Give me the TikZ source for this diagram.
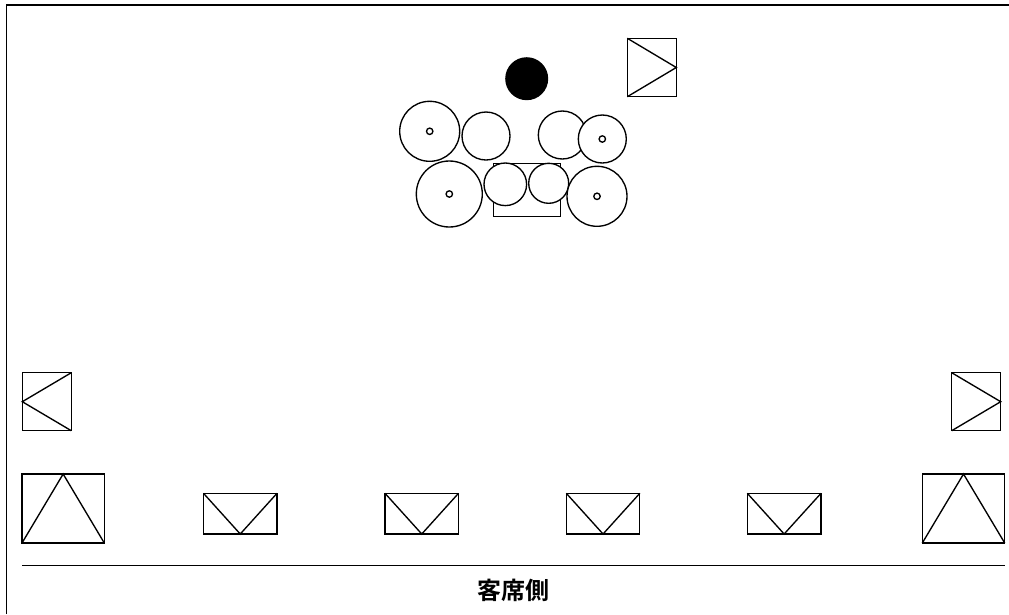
\documentclass[tikz,border=0pt]{standalone}
\usepackage{fontspec}
\newfontfamily\cjk{Noto Sans CJK JP}[BoldFont={Noto Sans CJK JP Bold}]
\tikzset{
  px/.style={x=1pt,y=-1pt},
  ln/.style={draw=black,line width=1.35pt,line join=miter},
  drum/.style={ln,fill=white},
  lug/.style={draw=black,line width=1.35pt,fill=white},
}
\newcommand{\drumc}[3]{\draw[drum] (#1,#2) circle[radius=#3];}
\newcommand{\drumd}[3]{\draw[drum] (#1,#2) circle[radius=#3]; \draw[lug] (#1,#2) circle[radius=3.2];}
\newcommand{\wdg}[4]{\draw[ln] (#1,#3) rectangle (#2,#4); \draw[ln] (#1,#3) -- ({(#1+#2)/2},#4) -- (#2,#3);}
\newcommand{\ampb}[4]{\draw[ln] (#1,#3) rectangle (#2,#4); \draw[ln] (#1,#4) -- ({(#1+#2)/2},#3) -- (#2,#4);}
\newcommand{\rside}[4]{\draw[ln] (#1,#3) rectangle (#2,#4); \draw[ln] (#1,#3) -- (#2,{(#3+#4)/2}) -- (#1,#4);}
\newcommand{\lside}[4]{\draw[ln] (#1,#3) rectangle (#2,#4); \draw[ln] (#2,#3) -- (#1,{(#3+#4)/2}) -- (#2,#4);}
\begin{document}
\begin{tikzpicture}[px]
\useasboundingbox (0,0) rectangle (1009,614);
\fill[white] (0,0) rectangle (1009,614);
% stage outline
\draw[ln] (6.5,614) -- (6.5,5) -- (1009,5);
% drum kit
\fill[black] (526.7,78.7) circle[radius=21.5];
\draw[ln] (493.7,163.7) rectangle (560.3,216.3);
\drumd{429.7}{131.3}{30}
\drumc{486}{136}{24}
\drumc{562.3}{135}{24}
\drumd{602.3}{139}{24}
\drumd{449.3}{194}{33}
\drumc{505.3}{184.3}{21.3}
\drumc{548.7}{183.3}{20}
\drumd{597}{196.3}{30}
% monitors
\rside{627.3}{676.3}{38.3}{96.7}
\lside{22.3}{71.3}{372.7}{430.7}
\rside{951.7}{1000.7}{372.7}{430.7}
\ampb{22}{104.3}{474}{543}
\ampb{922.3}{1004.7}{474}{543}
\wdg{203.5}{277}{493.3}{534}
\wdg{385}{458.5}{493.3}{534}
\wdg{566.3}{639.8}{493.3}{534}
\wdg{747.3}{821}{493.3}{534}
% audience line
\coordinate (audl) at (22,565.3);
\coordinate (audr) at (1004.7,565.3);
\draw[ln] (audl) -- (audr);
\node[inner sep=0pt,font=\cjk\bfseries\fontsize{24}{24}\selectfont] (aud) at (513,590) {客席側};
\end{tikzpicture}
\end{document}
